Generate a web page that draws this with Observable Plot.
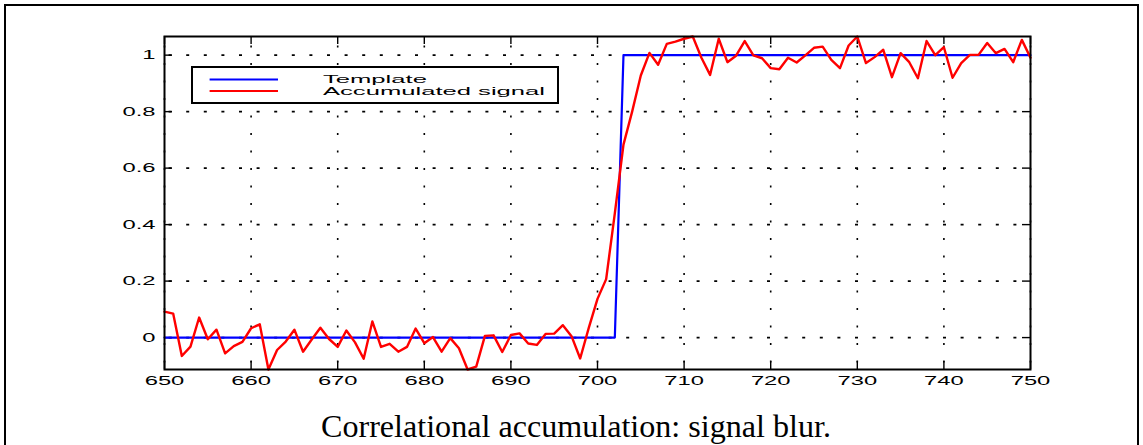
<!DOCTYPE html>
<html>
<head>
<meta charset="utf-8">
<script src="https://cdn.jsdelivr.net/npm/d3@7"></script>
<script src="https://cdn.jsdelivr.net/npm/@observablehq/plot@0.6"></script>
<style>
  html, body { margin: 0; padding: 0; background: #fff; }
  body { width: 1143px; height: 445px; overflow: hidden; position: relative; }
  #chart { position: absolute; left: 0; top: 0; }
  #frame { position: absolute; left: 4px; top: 4px; width: 1131px; height: 520px; border: 2px solid #000;
           background: none; pointer-events: none; z-index: 3; }
  #legend { position: absolute; left: 191px; top: 66px; z-index: 2; }
  #caption {
    position: absolute; left: 576px; top: 410px; white-space: nowrap;
    font-family: "Liberation Serif", "Times New Roman", serif; font-size: 32px; line-height: 32px;
    color: #000; transform-origin: 50% 50%;
  }
</style>
</head>
<body>
<div id="chart"></div>
<svg id="legend" width="368" height="38"></svg>
<div id="caption">Correlational accumulation: signal blur.</div>
<div id="frame"></div>
<script>
// Sample positions along the horizontal axis
const samples = d3.range(650, 751);

// Ideal step template: 0 before the edge, 1 after it
const template = [
  0, 0, 0, 0, 0, 0, 0, 0, 0, 0,   // 650-659
  0, 0, 0, 0, 0, 0, 0, 0, 0, 0,   // 660-669
  0, 0, 0, 0, 0, 0, 0, 0, 0, 0,   // 670-679
  0, 0, 0, 0, 0, 0, 0, 0, 0, 0,   // 680-689
  0, 0, 0, 0, 0, 0, 0, 0, 0, 0,   // 690-699
  0, 0, 0, 1, 1, 1, 1, 1, 1, 1,   // 700-709
  1, 1, 1, 1, 1, 1, 1, 1, 1, 1,   // 710-719
  1, 1, 1, 1, 1, 1, 1, 1, 1, 1,   // 720-729
  1, 1, 1, 1, 1, 1, 1, 1, 1, 1,   // 730-739
  1, 1, 1, 1, 1, 1, 1, 1, 1, 1,   // 740-749
  1                               // 750
];

// Accumulated (blurred, noisy) signal
const accumulated = [
  0.092, 0.085, -0.065, -0.032, 0.071, -0.006, 0.028, -0.056, -0.030, -0.015,   // 650-659
  0.033, 0.047, -0.113, -0.044, -0.014, 0.028, -0.050, -0.007, 0.035, -0.005,   // 660-669
  -0.033, 0.025, -0.017, -0.075, 0.057, -0.033, -0.022, -0.050, -0.033, 0.032,  // 670-679
  -0.020, 0.002, -0.050, -0.002, -0.038, -0.113, -0.103, 0.006, 0.008, -0.051,  // 680-689
  0.009, 0.015, -0.021, -0.026, 0.013, 0.014, 0.044, 0.005, -0.074, 0.035,      // 690-699
  0.137, 0.207, 0.440, 0.683, 0.800, 0.928, 1.008, 0.966, 1.040, 1.048,         // 700-709
  1.058, 1.066, 0.991, 0.930, 1.058, 0.975, 0.998, 1.050, 0.999, 0.989,         // 710-719
  0.954, 0.950, 0.991, 0.974, 0.999, 1.026, 1.030, 0.983, 0.954, 1.034,         // 720-729
  1.066, 0.972, 0.993, 1.019, 0.922, 1.007, 0.975, 0.918, 1.050, 1.000,         // 730-739
  1.028, 0.920, 0.972, 1.001, 1.001, 1.043, 1.007, 1.022, 0.975, 1.054,         // 740-749
  0.991                                                                          // 750
];

const xTicks = [650, 660, 670, 680, 690, 700, 710, 720, 730, 740, 750];
const yTicks = [0, 0.2, 0.4, 0.6, 0.8, 1];
const yTickLabels = ["0", "0.2", "0.4", "0.6", "0.8", "1"];

const seriesNames = ["Template", "Accumulated signal"];
const seriesColors = ["#0000ff", "#ff0000"];

// Layout
const W = 1143, H = 400;
const mL = 164, mR = 113, mT = 36, mB = 31;
const innerW = W - mL - mR, innerH = H - mT - mB;
const tickLen = 8;
const textStretch = 1.9;   // glyphs are drawn wide, as in the original figure

const chart = Plot.plot({
  width: W, height: H,
  marginLeft: mL, marginRight: mR, marginTop: mT, marginBottom: mB,
  style: { fontFamily: "'Liberation Sans', Arial, sans-serif", fontSize: "12.5px", color: "#000", background: "transparent" },
  x: { domain: [650, 750] },
  y: { domain: d3.extent(accumulated) },
  marks: [
    // dotted grid
    Plot.ruleY(yTicks, { stroke: "#000", strokeWidth: 1.8, strokeDasharray: "3,14.6", strokeDashoffset: 13 }),
    Plot.ruleX(xTicks, { stroke: "#000", strokeWidth: 1.6, strokeDasharray: "2,15.5", strokeDashoffset: 8 }),
    // inward ticks on all four sides
    Plot.tickX(xTicks, { x: d => d, stroke: "#000", strokeWidth: 1.4, insetTop: innerH - tickLen }),
    Plot.tickX(xTicks, { x: d => d, stroke: "#000", strokeWidth: 1.4, insetBottom: innerH - tickLen }),
    Plot.tickY(yTicks, { y: d => d, stroke: "#000", strokeWidth: 1.4, insetRight: innerW - tickLen }),
    Plot.tickY(yTicks, { y: d => d, stroke: "#000", strokeWidth: 1.4, insetLeft: innerW - tickLen }),
    // series
    Plot.line(template, { x: samples, y: d => d, stroke: seriesColors[0], strokeWidth: 2.2 }),
    Plot.line(accumulated, { x: samples, y: d => d, stroke: seriesColors[1], strokeWidth: 2.4 }),
    Plot.frame({ stroke: "#000", strokeWidth: 2 }),
    Plot.axisX(xTicks, { tickSize: 0, tickPadding: 7, label: null, fill: "#000" }),
    Plot.axisY(yTicks, { tickSize: 0, tickPadding: 9, label: null, fill: "#000",
      tickFormat: (d, i) => yTickLabels[i] })
  ]
});
document.getElementById("chart").append(chart);

// widen the tick labels
d3.select(chart).selectAll("text").each(function () {
  const w = this.getComputedTextLength();
  this.setAttribute("textLength", w * textStretch);
  this.setAttribute("lengthAdjust", "spacingAndGlyphs");
});

// Legend box
const lg = d3.select("#legend");
lg.append("rect").attr("x", 1).attr("y", 1).attr("width", 366).attr("height", 36)
  .attr("fill", "#fff").attr("stroke", "#000").attr("stroke-width", 2);
const rowY = [13.4, 25];
const baseY = [17, 28.6];
const labels = seriesNames.map((name, i) => {
  lg.append("line").attr("x1", 18.6).attr("x2", 87).attr("y1", rowY[i]).attr("y2", rowY[i])
    .attr("stroke", seriesColors[i]).attr("stroke-width", 2);
  return lg.append("text").attr("x", 132).attr("y", baseY[i])
    .attr("font-family", "'Liberation Sans', Arial, sans-serif").attr("font-size", 11.4)
    .attr("fill", "#000").text(name);
});
// both labels share one horizontal stretch, set by the longer label's width
const legendStretch = 222 / labels[1].node().getComputedTextLength();
labels.forEach(t => {
  t.attr("textLength", t.node().getComputedTextLength() * legendStretch).attr("lengthAdjust", "spacingAndGlyphs");
});

// Caption spans a fixed width under the chart
const cap = document.getElementById("caption");
const cw = cap.getBoundingClientRect().width;
cap.style.transform = `translateX(-50%) scaleX(${510 / cw})`;
</script>
</body>
</html>
